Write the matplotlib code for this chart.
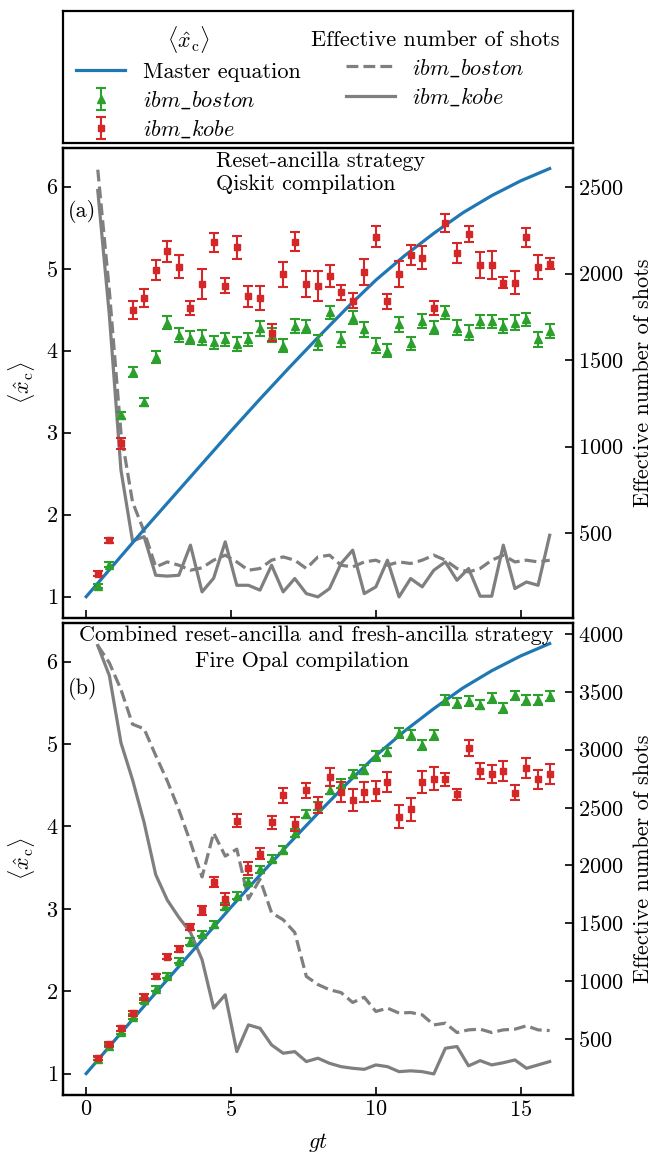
import numpy as np
import matplotlib
matplotlib.use("Agg")
import matplotlib.pyplot as plt

FS = 16
plt.rcParams["font.family"] = "serif"
plt.rcParams["font.serif"] = ["cmr10"]
plt.rcParams["mathtext.fontset"] = "cm"
plt.rcParams["axes.formatter.use_mathtext"] = True
plt.rcParams["axes.unicode_minus"] = False
plt.rcParams["font.size"] = FS

# evolution times gt
t = [0.4, 0.8, 1.2, 1.6, 2.0, 2.4, 2.8, 3.2, 3.6, 4.0,
     4.4, 4.8, 5.2, 5.6, 6.0, 6.4, 6.8, 7.2, 7.6, 8.0,
     8.4, 8.8, 9.2, 9.6, 10.0, 10.4, 10.8, 11.2, 11.6, 12.0,
     12.4, 12.8, 13.2, 13.6, 14.0, 14.4, 14.8, 15.2, 15.6, 16.0]

# master equation solution
t_me = [0, 1, 2, 3, 4, 5, 6, 7, 8, 9, 10, 11, 12, 13, 14, 15, 16]
x_me = [1.00, 1.41, 1.82, 2.22, 2.62, 3.02, 3.41, 3.79, 4.16, 4.52,
        4.86, 5.16, 5.43, 5.68, 5.89, 6.07, 6.22]

# (a) reset-ancilla, Qiskit compilation
xa_boston = [1.13, 1.39, 3.21, 3.74, 3.37, 3.92, 4.34, 4.19, 4.16, 4.16,
             4.10, 4.14, 4.08, 4.14, 4.27, 4.19, 4.06, 4.30, 4.29, 4.10,
             4.47, 4.14, 4.40, 4.26, 4.06, 4.00, 4.32, 4.09, 4.36, 4.28,
             4.47, 4.28, 4.22, 4.36, 4.36, 4.30, 4.34, 4.38, 4.14, 4.24]
ea_boston = [0.03, 0.03, 0.04, 0.06, 0.05, 0.07, 0.08, 0.08, 0.08, 0.09,
             0.08, 0.08, 0.09, 0.08, 0.09, 0.08, 0.08, 0.09, 0.08, 0.09,
             0.08, 0.09, 0.08, 0.09, 0.09, 0.08, 0.09, 0.08, 0.09, 0.08,
             0.08, 0.09, 0.09, 0.08, 0.08, 0.09, 0.09, 0.08, 0.09, 0.09]
xa_kobe = [1.28, 1.69, 2.87, 4.49, 4.64, 4.98, 5.21, 5.02, 4.52, 4.81,
           5.32, 4.79, 5.26, 4.66, 4.64, 4.22, 4.93, 5.33, 4.81, 4.79,
           4.91, 4.71, 4.61, 4.96, 5.39, 4.60, 4.93, 5.17, 5.13, 4.52,
           5.56, 5.19, 5.42, 5.04, 5.04, 4.83, 4.83, 5.38, 5.02, 5.06]
ea_kobe = [0.03, 0.03, 0.07, 0.11, 0.11, 0.12, 0.13, 0.14, 0.09, 0.18,
           0.12, 0.09, 0.14, 0.13, 0.15, 0.10, 0.15, 0.12, 0.16, 0.18,
           0.13, 0.09, 0.09, 0.16, 0.13, 0.09, 0.16, 0.12, 0.14, 0.09,
           0.11, 0.12, 0.10, 0.16, 0.17, 0.07, 0.14, 0.12, 0.15, 0.07]
na_boston = [2600, 1900, 1080, 680, 510, 305, 334, 315, 286, 300,
             344, 373, 334, 286, 296, 344, 363, 344, 296, 363,
             373, 315, 305, 334, 344, 315, 334, 325, 344, 373,
             344, 296, 276, 296, 344, 373, 334, 344, 334, 344]
na_kobe = [2480, 1760, 865, 455, 480, 257, 252, 257, 431, 161,
           240, 450, 199, 199, 171, 315, 161, 238, 151, 132,
           180, 325, 402, 151, 190, 344, 132, 238, 190, 286,
           334, 228, 296, 136, 136, 431, 180, 218, 199, 488]

# (b) combined strategy, Fire Opal compilation
xb_boston = [1.18, 1.34, 1.50, 1.69, 1.89, 2.03, 2.19, 2.37, 2.60, 2.70,
             2.81, 3.03, 3.16, 3.33, 3.48, 3.61, 3.72, 3.92, 4.15, 4.25,
             4.44, 4.52, 4.64, 4.69, 4.86, 4.90, 5.13, 5.11, 4.99, 5.11,
             5.54, 5.50, 5.52, 5.48, 5.56, 5.44, 5.59, 5.53, 5.54, 5.58]
eb_boston = [0.02, 0.02, 0.02, 0.03, 0.03, 0.03, 0.03, 0.03, 0.04, 0.03,
             0.04, 0.04, 0.04, 0.04, 0.04, 0.04, 0.04, 0.05, 0.05, 0.05,
             0.05, 0.05, 0.05, 0.05, 0.06, 0.05, 0.06, 0.06, 0.06, 0.06,
             0.06, 0.06, 0.06, 0.06, 0.06, 0.06, 0.06, 0.06, 0.06, 0.06]
xb_kobe = [1.19, 1.36, 1.55, 1.73, 1.93, 2.18, 2.42, 2.51, 2.78, 2.98,
           3.33, 3.12, 4.07, 3.49, 3.67, 4.05, 4.38, 4.03, 4.44, 4.26,
           4.60, 4.42, 4.32, 4.42, 4.43, 4.54, 4.12, 4.21, 4.54, 4.58,
           4.57, 4.39, 4.95, 4.67, 4.64, 4.67, 4.41, 4.71, 4.57, 4.64]
eb_kobe = [0.02, 0.02, 0.03, 0.03, 0.04, 0.03, 0.03, 0.04, 0.04, 0.05,
           0.06, 0.07, 0.08, 0.08, 0.07, 0.08, 0.09, 0.08, 0.09, 0.10,
           0.11, 0.12, 0.13, 0.12, 0.12, 0.12, 0.14, 0.14, 0.13, 0.14,
           0.08, 0.07, 0.10, 0.10, 0.11, 0.12, 0.09, 0.12, 0.12, 0.12]
nb_boston = [3900, 3750, 3520, 3220, 3180, 2950, 2730, 2480, 2200, 1900,
             2280, 2080, 2140, 1710, 1880, 1590, 1530, 1420, 1040, 970,
             925, 900, 815, 860, 737, 766, 723, 728, 708, 621,
             636, 555, 578, 584, 555, 578, 584, 613, 578, 572]
nb_kobe = [3900, 3640, 3060, 2740, 2370, 1920, 1700, 1550, 1420, 1185,
           766, 881, 390, 621, 592, 448, 376, 390, 304, 333,
           289, 260, 246, 237, 275, 260, 217, 224, 217, 197,
           419, 434, 267, 312, 275, 294, 318, 246, 275, 304]

blue = "#1f77b4"
green = "#2ca02c"
red = "#d62728"
grey = "#7f7f7f"


def panel(rect, xb, eb, xk, ek, nb, nk, nlim, nticks):
    ax = fig.add_axes(rect)
    ax2 = ax.twinx()
    ax.set_zorder(ax2.get_zorder() + 1)
    ax.patch.set_visible(False)

    ln_b, = ax2.plot(t, nb, "--", color=grey, lw=2.3)
    ln_k, = ax2.plot(t, nk, "-", color=grey, lw=2.3)

    me, = ax.plot(t_me, x_me, color=blue, lw=2.3, zorder=2)
    eb_b = ax.errorbar(t, xb, yerr=eb, fmt="^", color=green, ms=6,
                       elinewidth=1.5, capsize=3.5, capthick=1.5, zorder=3)
    eb_k = ax.errorbar(t, xk, yerr=ek, fmt="s", color=red, ms=5,
                       elinewidth=1.5, capsize=3.5, capthick=1.5, zorder=4)

    ax.set_xlim(-0.8, 16.8)
    ax.set_ylim(0.74, 6.47)
    ax.set_yticks([1, 2, 3, 4, 5, 6])
    ax.set_xticks([0, 5, 10, 15])
    ax.set_ylabel(r"$\langle\hat{x}_\mathrm{c}\rangle$", fontsize=FS, labelpad=6)
    ax2.set_ylim(*nlim)
    ax2.set_yticks(nticks)
    ax2.set_ylabel("Effective number of shots", fontsize=FS, labelpad=7)

    ax.tick_params(axis="both", direction="in", length=6, width=1.2,
                   labelsize=FS, top=False, right=False)
    ax2.tick_params(axis="y", direction="in", length=6, width=1.2,
                    labelsize=FS)
    for a in (ax, ax2):
        for s in a.spines.values():
            s.set_linewidth(1.6)
    return ax, ax2, me, eb_b, eb_k, ln_b, ln_k


fig = plt.figure(figsize=(6.57, 11.53), dpi=100)

ax_a, ax_a2, me, eb_b, eb_k, ln_b, ln_k = panel(
    [0.0959, 0.464, 0.776, 0.4076], xa_boston, ea_boston, xa_kobe, ea_kobe,
    na_boston, na_kobe, (10, 2725), [500, 1000, 1500, 2000, 2500])
ax_a.tick_params(labelbottom=False)
ax_a.text(0.01, 0.864, "(a)", transform=ax_a.transAxes, va="center", fontsize=FS)
ax_a.text(0.30, 0.993, "Reset-ancilla strategy\nQiskit compilation",
          transform=ax_a.transAxes, ha="left", va="top", fontsize=FS,
          multialignment="left", linespacing=1.25)

ax_b, ax_b2, *_ = panel(
    [0.0959, 0.0503, 0.776, 0.4094], xb_boston, eb_boston, xb_kobe, eb_kobe,
    nb_boston, nb_kobe, (15, 4095), [500, 1000, 1500, 2000, 2500, 3000, 3500, 4000])
ax_b.set_xlabel(r"$gt$", fontsize=FS, labelpad=8)
ax_b.text(0.01, 0.862, "(b)", transform=ax_b.transAxes, va="center", fontsize=FS)
ax_b.text(0.496, 0.975, "Combined reset-ancilla and fresh-ancilla strategy",
          transform=ax_b.transAxes, ha="center", va="center", fontsize=FS)
ax_b.text(0.469, 0.918, "Fire Opal compilation",
          transform=ax_b.transAxes, ha="center", va="center", fontsize=FS)

# legend box on top
lax = fig.add_axes([0.0959, 0.876, 0.776, 0.1145])
lax.set_xticks([])
lax.set_yticks([])
for s in lax.spines.values():
    s.set_linewidth(1.6)
leg1 = lax.legend([me, eb_b, eb_k],
                  ["Master equation", r"$\mathit{ibm\_boston}$", r"$\mathit{ibm\_kobe}$"],
                  title=r"$\langle\hat{x}_\mathrm{c}\rangle$", loc="upper left",
                  bbox_to_anchor=(0.0, 1.0), frameon=False, fontsize=FS,
                  title_fontsize=FS, handlelength=2.2, labelspacing=0.32,
                  borderaxespad=0.2)
lax.add_artist(leg1)
lax.legend([ln_b, ln_k], [r"$\mathit{ibm\_boston}$", r"$\mathit{ibm\_kobe}$"],
           title="Effective number of shots", loc="upper right",
           bbox_to_anchor=(1.0, 0.955), frameon=False, fontsize=FS,
           title_fontsize=FS, handlelength=2.2, labelspacing=0.32,
           borderaxespad=0.2)

fig.savefig("out.png", dpi=100)
